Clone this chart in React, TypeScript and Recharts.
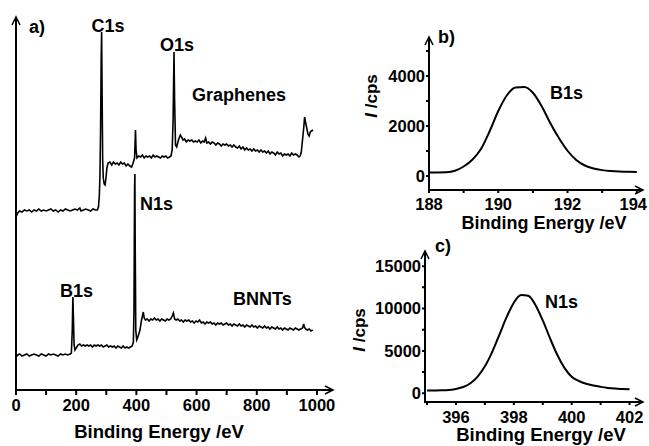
import React from "react";
import { LineChart, Line, XAxis, YAxis } from "recharts";

const FONT = '"Liberation Sans", Arial, Helvetica, sans-serif';

// survey spectra (panel a), [binding energy eV, intensity a.u.]
const grapheneSurvey: [number, number][] = [
  [0, 173], [6, 177], [12, 179], [20, 178], [28, 180], [36, 179], [44, 180], [52, 178], [60, 180], [68, 179],
  [76, 181], [84, 179], [92, 180], [100, 179], [108, 180], [116, 181], [124, 179], [132, 180], [140, 178], [148, 180],
  [156, 179], [164, 181], [172, 180], [180, 179], [188, 180], [196, 181], [204, 180], [212, 182], [216, 179], [224, 180],
  [232, 181], [240, 180], [248, 179], [256, 181], [264, 180], [270, 180], [274, 183], [277, 195], [279, 215], [281, 260],
  [283, 330], [284.5, 358], [286, 300], [288, 230], [290, 212], [293, 206], [296, 205], [299, 212], [302, 222], [306, 227],
  [312, 228], [318, 225], [324, 228], [330, 226], [336, 227], [342, 225], [348, 228], [354, 226], [360, 227], [366, 224],
  [372, 226], [378, 224], [384, 223], [388, 226], [391, 229], [394, 232], [397, 260], [399, 240], [402, 232], [408, 234],
  [414, 233], [420, 235], [426, 232], [432, 234], [438, 233], [444, 234], [450, 232], [456, 235], [462, 233], [468, 234],
  [474, 233], [480, 232], [486, 234], [492, 233], [498, 234], [504, 232], [510, 233], [515, 234], [519, 240], [522, 270],
  [525, 338], [527, 290], [530, 245], [534, 243], [538, 248], [542, 252], [546, 255], [550, 253], [555, 250], [560, 251],
  [566, 248], [572, 250], [578, 249], [584, 250], [590, 248], [596, 249], [602, 248], [608, 250], [614, 247], [620, 249],
  [625, 248], [630, 252], [634, 247], [640, 248], [646, 246], [652, 248], [658, 247], [664, 245], [670, 247], [676, 246],
  [682, 244], [688, 246], [694, 245], [700, 246], [706, 244], [712, 245], [718, 243], [724, 245], [730, 243], [736, 242],
  [742, 244], [748, 241], [754, 243], [760, 240], [766, 242], [772, 240], [778, 241], [784, 239], [790, 241], [796, 239],
  [802, 240], [808, 238], [814, 240], [820, 238], [826, 239], [832, 237], [838, 239], [844, 236], [850, 238], [856, 237],
  [862, 235], [868, 238], [874, 236], [880, 237], [886, 234], [892, 236], [898, 235], [904, 236], [910, 234], [916, 237],
  [922, 235], [928, 236], [934, 235], [940, 233], [944, 234], [948, 238], [952, 250], [956, 262], [959, 273], [962, 268],
  [966, 262], [970, 256], [974, 254], [978, 258], [982, 259], [987, 260],
];

const bnntSurvey: [number, number][] = [
  [0, 33], [6, 35], [12, 36], [20, 34], [28, 35], [36, 36], [44, 34], [52, 35], [60, 36], [68, 35],
  [76, 34], [84, 36], [92, 35], [100, 34], [108, 36], [116, 35], [124, 36], [132, 35], [140, 34], [148, 36],
  [156, 35], [164, 36], [172, 35], [180, 36], [184, 37], [187, 60], [189, 93], [191, 70], [193, 45], [196, 40],
  [200, 42], [206, 45], [212, 46], [218, 44], [224, 45], [230, 44], [236, 45], [242, 44], [248, 45], [254, 43],
  [260, 45], [266, 44], [272, 45], [278, 44], [284, 45], [290, 43], [296, 44], [302, 45], [308, 43], [314, 44],
  [320, 43], [326, 44], [332, 42], [338, 44], [344, 43], [350, 42], [356, 44], [362, 42], [368, 43], [374, 42],
  [380, 43], [386, 44], [390, 48], [392, 80], [394, 200], [395, 216], [396, 150], [398, 60], [401, 50], [404, 52],
  [408, 56], [412, 60], [416, 68], [420, 74], [423, 78], [426, 72], [430, 70], [436, 71], [442, 69], [448, 71],
  [454, 70], [460, 72], [466, 70], [472, 71], [478, 69], [484, 71], [490, 70], [496, 69], [502, 71], [508, 70],
  [514, 71], [519, 74], [523, 77], [527, 71], [532, 70], [538, 71], [544, 69], [550, 70], [556, 68], [562, 70],
  [568, 69], [574, 70], [580, 68], [586, 69], [592, 67], [598, 69], [604, 68], [610, 70], [616, 67], [622, 68],
  [628, 66], [634, 68], [640, 67], [646, 68], [652, 66], [658, 67], [664, 65], [670, 67], [676, 66], [682, 67],
  [688, 65], [694, 66], [700, 67], [706, 65], [712, 66], [718, 64], [724, 66], [730, 65], [736, 64], [742, 66],
  [748, 64], [754, 65], [760, 63], [766, 65], [772, 64], [778, 63], [784, 65], [790, 63], [796, 64], [802, 62],
  [808, 64], [814, 63], [820, 62], [826, 64], [832, 62], [838, 63], [844, 61], [850, 63], [856, 62], [862, 61],
  [868, 63], [874, 61], [880, 62], [886, 60], [892, 62], [898, 61], [904, 60], [910, 62], [916, 61], [922, 60],
  [928, 62], [934, 61], [940, 60], [946, 61], [952, 62], [956, 66], [958, 63], [962, 61], [968, 60], [974, 61],
  [980, 59], [986, 60],
];

// B1s high resolution (panel b)
const b1sEnergy = [
  188, 188.25, 188.5, 188.75, 189, 189.25, 189.5, 189.75, 190, 190.25, 190.5, 190.75, 191,
  191.25, 191.5, 191.75, 192, 192.25, 192.5, 192.75, 193, 193.25, 193.5, 193.75, 194,
];
const b1sCounts = [
  140, 142, 150, 210, 380, 650, 1080, 1790, 2600, 3230, 3540, 3560, 3330,
  2800, 2120, 1520, 1010, 640, 420, 300, 235, 200, 180, 168, 160,
];

// N1s high resolution (panel c)
const n1sEnergy = [
  395, 395.25, 395.5, 395.75, 396, 396.25, 396.5, 396.75, 397, 397.25, 397.5, 397.75, 398,
  398.25, 398.5, 398.75, 399, 399.25, 399.5, 399.75, 400, 400.25, 400.5, 400.75, 401, 401.25,
  401.5, 401.75, 402,
];
const n1sCounts = [
  335, 340, 350, 380, 520, 744, 1185, 1960, 3180, 4860, 6900, 8980, 10690,
  11610, 11500, 10400, 8600, 6500, 4550, 3000, 1950, 1450, 1120, 910, 760, 640,
  560, 510, 470,
];

const surveyTicks = [0, 100, 200, 300, 400, 500, 600, 700, 800, 900, 1000];
const b1sXTicks = [188, 189, 190, 191, 192, 193, 194];
const b1sYTicks = [0, 1000, 2000, 3000, 4000, 5000];
const n1sXTicks = [395, 396, 397, 398, 399, 400, 401, 402];
const n1sYTicks = [0, 2500, 5000, 7500, 10000, 12500, 15000];

const pairsToRows = (pairs: [number, number][]) =>
  pairs.map(([energy, counts]) => ({ energy, counts }));
const zipRows = (energy: number[], counts: number[]) =>
  energy.map((e, i) => ({ energy: e, counts: counts[i] }));

const TICK_FONT = 16.5;
const AXIS_W = 2;

// panel geometry: chart box on the page, its margins and axis sizes
type Panel = {
  left: number; top: number; width: number; height: number;
  margin: { top: number; right: number; bottom: number; left: number };
  yAxisW: number; xAxisH: number;
  xDomain: [number, number]; yDomain: [number, number];
};

const panelA: Panel = {
  left: 0, top: 0, width: 340, height: 446,
  margin: { top: 18, right: 8, bottom: 26, left: 15 },
  yAxisW: 1, xAxisH: 30, xDomain: [0, 1050], yDomain: [0, 372],
};
const panelB: Panel = {
  left: 340, top: 0, width: 309, height: 230,
  margin: { top: 38, right: 7, bottom: 10, left: 0 },
  yAxisW: 89, xAxisH: 30, xDomain: [188, 194.15], yDomain: [-560, 5520],
};
const panelC: Panel = {
  left: 340, top: 230, width: 309, height: 216,
  margin: { top: 22, right: 7, bottom: 14, left: 0 },
  yAxisW: 85, xAxisH: 30, xDomain: [394.93, 402.43], yDomain: [-1025, 16670],
};

// axis frame (lines, tick marks, arrow heads) on the page, same geometry as the chart
const AxisFrame = ({ p, xTicks, yTicks, xLen, yLen }: {
  p: Panel; xTicks: number[]; yTicks: number[]; xLen: number; yLen: number;
}) => {
  const L = p.left + p.margin.left + p.yAxisW;
  const R = p.left + p.width - p.margin.right;
  const T = p.top + p.margin.top;
  const B = p.top + p.height - p.margin.bottom - p.xAxisH;
  const sx = (v: number) => L + ((v - p.xDomain[0]) / (p.xDomain[1] - p.xDomain[0])) * (R - L);
  const sy = (v: number) => B - ((v - p.yDomain[0]) / (p.yDomain[1] - p.yDomain[0])) * (B - T);
  const ticks = [
    ...xTicks.map((v) => `M${sx(v)},${B} L${sx(v)},${B + xLen}`),
    ...yTicks.map((v) => `M${L},${sy(v)} L${L - yLen},${sy(v)}`),
  ].join(" ");
  return (
    <g fill="none" stroke="#000" strokeWidth={AXIS_W}>
      <path d={`M${L},${T} L${L},${B} L${R},${B}`} strokeLinecap="square" />
      <path d={ticks} />
      <path d={`M${L - 4},${T + 7} L${L},${T - 1} L${L + 4},${T + 7}`} strokeWidth={1.5} />
      <path d={`M${R - 7},${B - 4} L${R + 1},${B} L${R - 7},${B + 4}`} strokeWidth={1.5} />
    </g>
  );
};

// tick labels, only every `step`; keep the last one inside the svg
const xTick = (step: number, maxX = 9999) => (props: any) => {
  const v = props.payload.value;
  const { x, y } = props;
  const nearEdge = x + 14 > maxX;
  return (
    <text
      x={nearEdge ? maxX : x}
      y={y}
      dy="0.71em"
      textAnchor={nearEdge ? "end" : "middle"}
      fontSize={TICK_FONT}
      fontWeight={700}
      fontFamily={FONT}
      fill="#000"
    >
      {Math.abs(v % step) < 1e-6 ? String(v) : ""}
    </text>
  );
};

const yTick = (step: number) => (props: any) => {
  const v = props.payload.value;
  return (
    <text
      x={props.x}
      y={props.y}
      dy="0.355em"
      textAnchor="end"
      fontSize={TICK_FONT}
      fontWeight={700}
      fontFamily={FONT}
      fill="#000"
    >
      {Math.abs(v % step) < 1e-6 ? String(v) : ""}
    </text>
  );
};

const YLabel = ({ x, y }: { x: number; y: number }) => (
  <text
    transform={`translate(${x},${y}) rotate(-90)`}
    textAnchor="middle"
    fontSize={17}
    fontWeight={700}
    fontFamily={FONT}
  >
    <tspan fontStyle="italic">I</tspan>
    <tspan> /cps</tspan>
  </text>
);

export default function App() {
  const graphene = pairsToRows(grapheneSurvey);
  const bnnt = pairsToRows(bnntSurvey);
  const b1s = zipRows(b1sEnergy, b1sCounts);
  const n1s = zipRows(n1sEnergy, n1sCounts);

  const box = (p: Panel) => ({ position: "absolute" as const, left: p.left, top: p.top });

  return (
    <div
      style={{
        position: "absolute",
        left: 0,
        top: 0,
        width: 649,
        height: 446,
        background: "#fff",
        fontFamily: FONT,
      }}
    >
      {/* a) survey */}
      <div style={box(panelA)}>
        <LineChart width={panelA.width} height={panelA.height} margin={panelA.margin}>
          <XAxis
            type="number"
            dataKey="energy"
            domain={panelA.xDomain}
            ticks={surveyTicks}
            interval={0}
            height={panelA.xAxisH}
            axisLine={false}
            tickLine={false}
            tick={xTick(200)}
            tickSize={5}
            tickMargin={4}
          />
          <YAxis
            type="number"
            domain={panelA.yDomain}
            width={panelA.yAxisW}
            axisLine={false}
            tick={false}
            tickLine={false}
          />
          <Line data={graphene} dataKey="counts" type="linear" dot={false} stroke="#000" strokeWidth={1.6} isAnimationActive={false} />
          <Line data={bnnt} dataKey="counts" type="linear" dot={false} stroke="#000" strokeWidth={1.6} isAnimationActive={false} />
        </LineChart>
      </div>

      {/* b) B1s */}
      <div style={box(panelB)}>
        <LineChart width={panelB.width} height={panelB.height} margin={panelB.margin}>
          <XAxis
            type="number"
            dataKey="energy"
            domain={panelB.xDomain}
            ticks={b1sXTicks}
            interval={0}
            height={panelB.xAxisH}
            axisLine={false}
            tickLine={false}
            tick={xTick(2, 307)}
            tickSize={3}
            tickMargin={5}
          />
          <YAxis
            type="number"
            domain={panelB.yDomain}
            ticks={b1sYTicks}
            interval={0}
            width={panelB.yAxisW}
            axisLine={false}
            tickLine={false}
            tick={yTick(2000)}
            tickSize={3}
            tickMargin={1}
          />
          <Line data={b1s} dataKey="counts" type="monotone" dot={false} stroke="#000" strokeWidth={2} isAnimationActive={false} />
        </LineChart>
      </div>

      {/* c) N1s */}
      <div style={box(panelC)}>
        <LineChart width={panelC.width} height={panelC.height} margin={panelC.margin}>
          <XAxis
            type="number"
            dataKey="energy"
            domain={panelC.xDomain}
            ticks={n1sXTicks}
            interval={0}
            height={panelC.xAxisH}
            axisLine={false}
            tickLine={false}
            tick={xTick(2, 307)}
            tickSize={3}
            tickMargin={6}
          />
          <YAxis
            type="number"
            domain={panelC.yDomain}
            ticks={n1sYTicks}
            interval={0}
            width={panelC.yAxisW}
            axisLine={false}
            tickLine={false}
            tick={yTick(5000)}
            tickSize={3}
            tickMargin={1}
          />
          <Line data={n1s} dataKey="counts" type="monotone" dot={false} stroke="#000" strokeWidth={2} isAnimationActive={false} />
        </LineChart>
      </div>

      {/* axes frames and annotations */}
      <svg
        width={649}
        height={446}
        style={{ position: "absolute", left: 0, top: 0, pointerEvents: "none" }}
        fontFamily={FONT}
        fontWeight={700}
      >
        <AxisFrame p={panelA} xTicks={surveyTicks} yTicks={[]} xLen={5} yLen={0} />
        <AxisFrame p={panelB} xTicks={b1sXTicks} yTicks={b1sYTicks} xLen={3} yLen={3} />
        <AxisFrame p={panelC} xTicks={n1sXTicks} yTicks={n1sYTicks} xLen={3} yLen={3} />

        <text x={29} y={33} fontSize={18}>a)</text>
        <text x={108} y={32} fontSize={18} textAnchor="middle">C1s</text>
        <text x={177} y={51} fontSize={18} textAnchor="middle">O1s</text>
        <text x={192} y={101} fontSize={18}>Graphenes</text>
        <text x={140} y={210} fontSize={18}>N1s</text>
        <text x={60} y={297} fontSize={18}>B1s</text>
        <text x={233} y={305} fontSize={18}>BNNTs</text>
        <text x={159} y={438} fontSize={18.5} textAnchor="middle">Binding Energy /eV</text>

        <text x={438} y={43} fontSize={18}>b)</text>
        <text x={550} y={99} fontSize={18}>B1s</text>
        <YLabel x={377} y={96} />
        <text x={544} y={229} fontSize={18} textAnchor="middle">Binding Energy /eV</text>

        <text x={435} y={252} fontSize={18}>c)</text>
        <text x={545} y={308} fontSize={18}>N1s</text>
        <YLabel x={365} y={330} />
        <text x={541} y={441} fontSize={18.5} textAnchor="middle">Binding Energy /eV</text>
      </svg>
    </div>
  );
}
